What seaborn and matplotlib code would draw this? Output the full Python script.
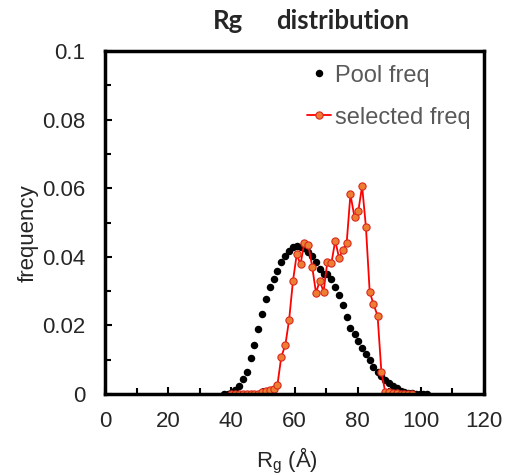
import numpy as np
import pandas as pd
import seaborn as sns
import matplotlib
matplotlib.use('Agg')
from matplotlib import pyplot as plt
from matplotlib.ticker import MultipleLocator, FuncFormatter

# Rg grid (Å), shared by both series
rg = [37.6, 38.8, 40.0, 41.2, 42.5, 43.7, 44.9, 46.1, 47.3, 48.5,
      49.8, 51.0, 52.2, 53.4, 54.6, 55.8, 57.1, 58.3, 59.5, 60.7,
      61.9, 63.1, 64.4, 65.6, 66.8, 68.0, 69.2, 70.4, 71.7, 72.9,
      74.1, 75.3, 76.5, 77.7, 79.0, 80.2, 81.4, 82.6, 83.8, 85.0,
      86.3, 87.5, 88.7, 89.9, 91.1, 92.3, 93.6, 94.8, 96.0, 97.2,
      98.4, 99.6, 100.8, 102.1]

pool_freq = [0.0001, 0.0001, 0.0002, 0.0012, 0.0022, 0.0045, 0.0065, 0.0104, 0.0143, 0.0190,
             0.0233, 0.0277, 0.0311, 0.0334, 0.0360, 0.0384, 0.0402, 0.0418, 0.0428, 0.0431,
             0.0429, 0.0425, 0.0415, 0.0402, 0.0385, 0.0364, 0.0351, 0.0349, 0.0334, 0.0313,
             0.0288, 0.0259, 0.0225, 0.0192, 0.0175, 0.0155, 0.0133, 0.0117, 0.0099, 0.0078,
             0.0064, 0.0052, 0.0041, 0.0031, 0.0023, 0.0017, 0.0010, 0.0005, 0.0003, 0.0002,
             0.0001, 0.0001, 0.0000, 0.0000]

# selected freq starts at the 3rd grid point and ends at the 50th
sel_rg = rg[2:50]
selected_freq = [0.0, 0.0, 0.0, 0.0, 0.0, 0.0, 0.0, 0.0,
                 0.0006, 0.0010, 0.0012, 0.0014, 0.0027, 0.0108, 0.0143, 0.0217,
                 0.0329, 0.0407, 0.0378, 0.0441, 0.0434, 0.0371, 0.0295, 0.0330,
                 0.0298, 0.0386, 0.0383, 0.0447, 0.0397, 0.0420, 0.0439, 0.0582,
                 0.0515, 0.0534, 0.0606, 0.0488, 0.0298, 0.0262, 0.0228, 0.0065,
                 0.0007, 0.0005, 0.0003, 0.0002, 0.0001, 0.0001, 0.0, 0.0]

df_pool = pd.DataFrame({'Rg': rg, 'freq': pool_freq})
df_sel = pd.DataFrame({'Rg': sel_rg, 'freq': selected_freq})

sns.set_style('ticks')
plt.rcParams['font.family'] = ['Liberation Sans', 'DejaVu Sans']
plt.rcParams['mathtext.fontset'] = 'custom'
plt.rcParams['mathtext.rm'] = 'Liberation Sans'

fig = plt.figure(figsize=(5.08, 4.75), dpi=100)
ax = fig.add_axes([0.2067, 0.1705, 0.7461, 0.7221])

sns.lineplot(data=df_pool, x='Rg', y='freq', ax=ax, linestyle='none', marker='o',
             markersize=5.4, color='black', markeredgewidth=0, label='Pool freq')
sns.lineplot(data=df_sel, x='Rg', y='freq', ax=ax, color='#FF0000', linewidth=1.3,
             marker='o', markersize=5.2, markerfacecolor='#ED7D31',
             markeredgecolor='#D9281E', markeredgewidth=0.8, label='selected freq')

ax.set_xlim(0, 120)
ax.set_ylim(0, 0.1)
ax.xaxis.set_major_locator(MultipleLocator(20))
ax.xaxis.set_minor_locator(MultipleLocator(10))
ax.yaxis.set_major_locator(MultipleLocator(0.02))
ax.yaxis.set_minor_locator(MultipleLocator(0.01))
ax.yaxis.set_major_formatter(FuncFormatter(lambda v, p: f'{v:g}'))
ax.tick_params(which='both', direction='in', width=1.5, color='black', labelsize=16)
ax.tick_params(which='major', length=5)
ax.tick_params(which='minor', length=4)
ax.tick_params(axis='y', pad=14)
ax.tick_params(axis='x', pad=12)
for s in ax.spines.values():
    s.set_linewidth(2.5)
    s.set_color('black')

ax.set_xlabel(r'R$_\mathregular{g}$ (Å)', fontsize=16)
ax.set_ylabel('frequency', fontsize=16)
ax.yaxis.set_label_coords(-0.175, 0.47)
ax.xaxis.set_label_coords(0.48, -0.15)

leg = ax.legend(loc='upper left', bbox_to_anchor=(0.503, 0.995), frameon=False,
                fontsize=17, labelcolor='#595959', handlelength=1.0,
                handletextpad=0.15, labelspacing=0.85, borderpad=0)

fig.text(213 / 508, 1 - 29 / 475, 'Rg', fontsize=18.5, fontweight='bold',
         family=['Lato', 'DejaVu Sans'], va='baseline')
fig.text(276 / 508, 1 - 29 / 475, 'distribution', fontsize=18.5, fontweight='bold',
         family=['Lato', 'DejaVu Sans'], va='baseline')

plt.savefig('out.png', dpi=100)
